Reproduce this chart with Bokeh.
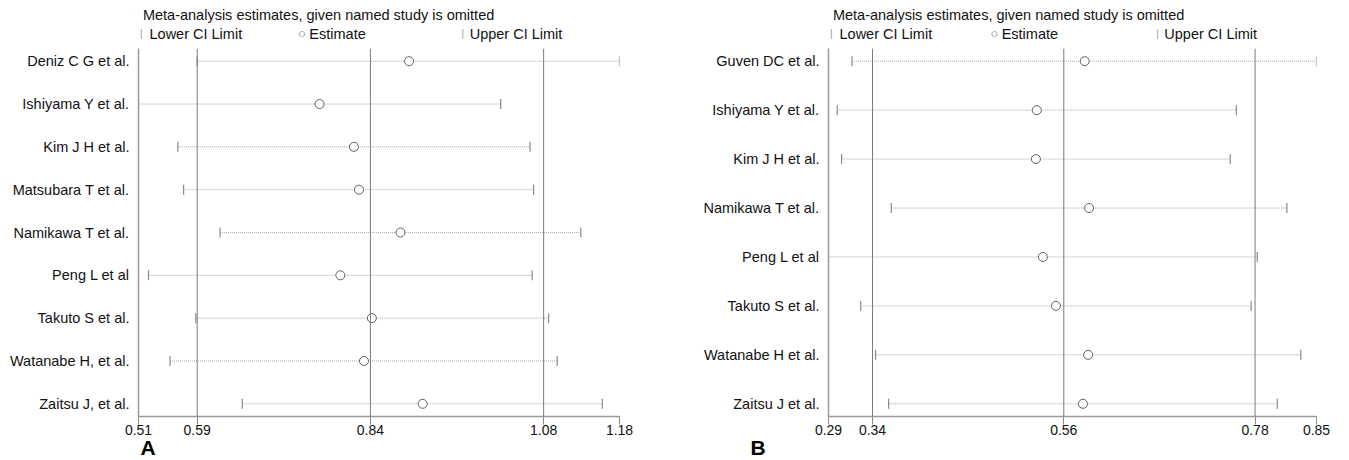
import numpy as np
from bokeh.plotting import figure
from bokeh.models import Range1d, FixedTicker, Span, Label, Title, ColumnDataSource
from bokeh.layouts import row, column
from bokeh.embed import file_html
from bokeh.resources import INLINE

FONT = "Liberation Sans"

# ---------------- data: panel A ----------------
studies_a = ["Deniz C G et al.", "Ishiyama Y et al.", "Kim J H et al.",
             "Matsubara T et al.", "Namikawa T et al.", "Peng L et al",
             "Takuto S et al.", "Watanabe H, et al.", "Zaitsu J, et al."]
est_a = [0.890, 0.765, 0.813, 0.820, 0.878, 0.794, 0.838, 0.827, 0.909]
lo_a = [0.594, 0.512, 0.567, 0.575, 0.626, 0.526, 0.592, 0.556, 0.657]
hi_a = [1.184, 1.018, 1.059, 1.064, 1.130, 1.062, 1.085, 1.097, 1.160]
overall_a = [0.594, 0.836, 1.078]          # lower CI, estimate, upper CI
ticklabels_a = ["0.51", "0.59", "0.84", "1.08", "1.18"]

# ---------------- data: panel B ----------------
studies_b = ["Guven DC et al.", "Ishiyama Y et al.", "Kim J H et al.",
             "Namikawa T et al.", "Peng L et al", "Takuto S et al.",
             "Watanabe H et al.", "Zaitsu J et al."]
est_b = [0.584, 0.529, 0.528, 0.589, 0.536, 0.551, 0.588, 0.582]
lo_b = [0.317, 0.300, 0.305, 0.362, 0.290, 0.327, 0.344, 0.359]
hi_b = [0.850, 0.758, 0.751, 0.816, 0.782, 0.775, 0.832, 0.805]
overall_b = [0.3405, 0.560, 0.7795]
ticklabels_b = ["0.29", "0.34", "0.56", "0.78", "0.85"]

header_title = "Meta-analysis estimates, given named study is omitted"
legend_texts = ["Lower CI Limit", "Estimate", "Upper CI Limit"]
letters = ["A", "B"]

# ---------------- layout constants ----------------
HEADER_H = 48
FRAME_H = 368
BOTTOM = 44
PAD_PX = 12.7
FW_A, BL_A, BR_A = 481, 138, 79
FW_B, BL_B, BR_B = 488, 130, 20
W_A = BL_A + FW_A + BR_A
W_B = BL_B + FW_B + BR_B
ORIGIN_A = BL_A
ORIGIN_B = W_A + BL_B
TOTAL_W = W_A + W_B


def blank_fig(height):
    f = figure(frame_width=TOTAL_W, frame_height=height,
               x_range=Range1d(0, 1), y_range=Range1d(0, 1),
               x_axis_type=None, y_axis_type=None,
               min_border=0, output_backend="svg", toolbar_location=None)
    f.title.visible = False
    f.xgrid.visible = False
    f.ygrid.visible = False
    f.outline_line_color = None
    return f


def lab(f, x, y, text, size="14.5px", color="#111111", align="left",
        style="normal", baseline="middle"):
    f.add_layout(Label(x=x, y=y, x_units="screen", y_units="screen",
                       text=text, text_font=FONT, text_font_size=size,
                       text_color=color, text_align=align,
                       text_baseline=baseline, text_font_style=style))


def panel(studies, lo, est, hi, overall, ticklabels, frame_w, bl, br,
          letter, letter_dx):
    n = len(studies)
    step = (FRAME_H - 2 * PAD_PX) / (n - 1)
    pad = PAD_PX / step
    xmin, xmax = min(lo), max(hi)
    p = figure(frame_width=frame_w, frame_height=FRAME_H,
               min_border_left=bl, min_border_right=br,
               min_border_top=0, min_border_bottom=BOTTOM,
               x_range=Range1d(xmin, xmax),
               y_range=Range1d(n + pad, 1 - pad),
               output_backend="svg", toolbar_location=None)
    p.title.visible = False
    p.xgrid.visible = False
    p.ygrid.visible = False
    p.outline_line_color = None

    src = ColumnDataSource(dict(y=list(range(1, n + 1)), lo=lo, est=est, hi=hi))

    for v in overall:
        p.add_layout(Span(location=v, dimension="height",
                          line_color="#7a7a7a", line_width=1))

    p.segment(x0="lo", y0="y", x1="hi", y1="y", source=src,
              line_color="#a8a8a8", line_width=1, line_dash="1 1")
    p.scatter(x="lo", y="y", source=src, marker="dash", size=10,
              angle=np.pi / 2, line_color="#8a8a8a", line_width=1.2)
    p.scatter(x="hi", y="y", source=src, marker="dash", size=10,
              angle=np.pi / 2, line_color="#8a8a8a", line_width=1.2)
    p.scatter(x="est", y="y", source=src, marker="circle", size=9,
              fill_color="white", line_color="#606060", line_width=1)

    ticks = [xmin] + list(overall) + [xmax]
    xa = p.xaxis[0]
    xa.ticker = FixedTicker(ticks=ticks, minor_ticks=[])
    xa.major_label_overrides = {t: s for t, s in zip(ticks, ticklabels)}
    xa.axis_line_color = "#9a9a9a"
    xa.axis_line_width = 1.5
    xa.major_tick_line_color = "#8a8a8a"
    xa.major_tick_out = 8
    xa.major_tick_in = 0
    xa.minor_tick_line_color = None
    xa.major_label_standoff = 0
    xa.major_label_text_font = FONT
    xa.major_label_text_font_size = "14px"
    xa.major_label_text_color = "#111111"

    ya = p.yaxis[0]
    ya.ticker = FixedTicker(ticks=list(range(1, n + 1)), minor_ticks=[])
    ya.major_label_overrides = {i + 1: s for i, s in enumerate(studies)}
    ya.axis_line_color = "#9a9a9a"
    ya.axis_line_width = 1.5
    ya.major_tick_line_color = None
    ya.major_tick_out = 0
    ya.major_tick_in = 0
    ya.minor_tick_line_color = None
    ya.major_label_standoff = 9
    ya.major_label_text_font = FONT
    ya.major_label_text_font_size = "14.5px"
    ya.major_label_text_color = "#111111"

    p.add_layout(Title(text=letter, align="left", offset=letter_dx,
                       vertical_align="top", standoff=-4,
                       text_font=FONT, text_font_size="21px",
                       text_font_style="bold", text_color="#000000"), "below")
    return p


# header: title + legend line for both panels
header = blank_fig(HEADER_H)
for origin, fw in [(ORIGIN_A, FW_A), (ORIGIN_B, FW_B)]:
    third = fw / 3.0
    lab(header, origin + 4.4, HEADER_H - 14, header_title)
    ly = HEADER_H - 33
    lab(header, origin + 2.7, ly, "|", size="10px", color="#999999", align="center")
    lab(header, origin + 11, ly, legend_texts[0])
    lab(header, origin + third + 3.2, ly, "\u25CB", size="13px", color="#555555",
        align="center")
    lab(header, origin + third + 10.5, ly, legend_texts[1])
    lab(header, origin + 2 * third + 3.6, ly, "|", size="10px", color="#999999",
        align="center")
    lab(header, origin + 2 * third + 10.5, ly, legend_texts[2])

pa = panel(studies_a, lo_a, est_a, hi_a, overall_a, ticklabels_a, FW_A, BL_A, BR_A,
           letters[0], 2)
pb = panel(studies_b, lo_b, est_b, hi_b, overall_b, ticklabels_b, FW_B, BL_B, BR_B,
           letters[1], -78)

layout = column(header, row(pa, pb))
open("out.html", "w").write(file_html(layout, INLINE))
